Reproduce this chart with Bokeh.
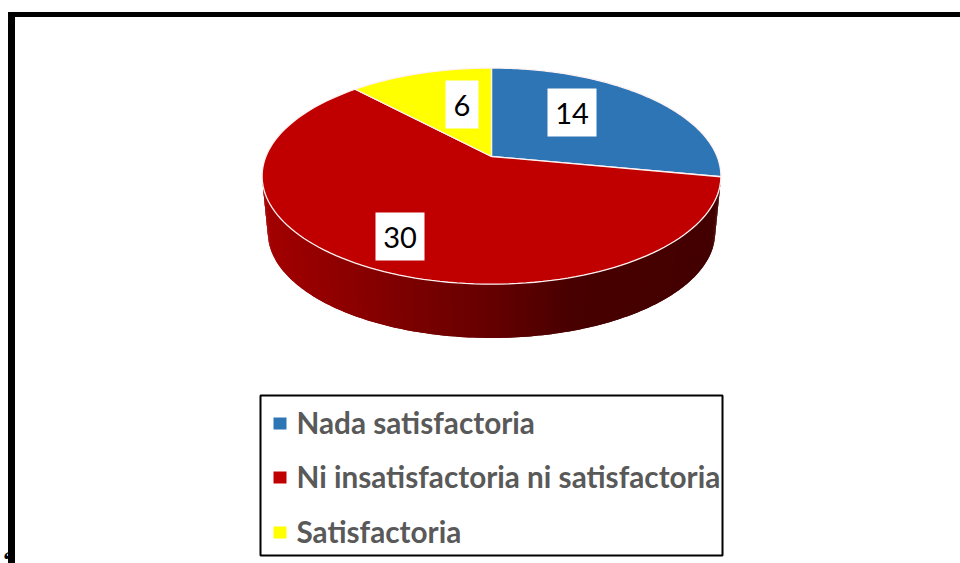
import math
from bokeh.core.properties import value
from bokeh.embed import file_html
from bokeh.models import ColumnDataSource, Range1d
from bokeh.plotting import figure
from bokeh.resources import INLINE

categories = ["Nada satisfactoria", "Ni insatisfactoria ni satisfactoria", "Satisfactoria"]
values = [14, 30, 6]
colors = ["#2E75B6", "#C00000", "#FFFF00"]

# Perspective projection of the pie disc (screen pixels)
APEX_X, APEX_Y = 491, 156
A, B, K = 104.5, 225.6, 0.1814
LOW_SCALE, LOW_DROP = 0.975, 57.0

def rim(theta, lower=False):
    u, v = math.sin(theta), math.cos(theta)
    d = 1 + K * v
    x, y = B * u / d, -A * v / d
    if lower:
        x, y = x * LOW_SCALE, y * LOW_SCALE + LOW_DROP
    return APEX_X + x, APEX_Y + y

def arc(t0, t1, n, lower=False):
    pts = [rim(t0 + (t1 - t0) * i / n, lower) for i in range(n + 1)]
    return [q[0] for q in pts], [q[1] for q in pts]

def shade(x):
    stops = [(262, (163, 0, 0)), (370, (133, 0, 0)), (490, (101, 0, 0)),
             (570, (72, 0, 0)), (720, (67, 0, 0))]
    for (x0, c0), (x1, c1) in zip(stops, stops[1:]):
        if x <= x1:
            f = max(0.0, (x - x0) / (x1 - x0))
            return "#%02x%02x%02x" % tuple(round(a + (b - a) * f) for a, b in zip(c0, c1))
    return "#430000"

p = figure(width=960, height=563, x_range=Range1d(0, 960), y_range=Range1d(563, 0),
           output_backend="svg", toolbar_location=None, min_border=0,
           background_fill_color="white", border_fill_color="white",
           outline_line_color=None)
p.axis.visible = False
p.grid.visible = False

# frame
p.quad(left=[8, 8], right=[14, 960], top=[12, 12], bottom=[563, 16], color="black")
p.text(x=[2], y=[558], text=["\u2018"], text_font=value("Liberation Serif"),
       text_font_size="24px", text_font_style="bold", text_color="black",
       text_baseline="middle")

# slice angles
total = sum(values)
angles = [0.0]
for val in values:
    angles.append(angles[-1] + val / total * 2 * math.pi)

# side wall of the disc: overlapping strips painted one over the next
start = max(angles[1], math.acos(-K))
end = 2 * math.pi - math.acos(-K)
N = 170
xs, ys, cs = [], [], []
for i in range(N):
    t0 = start + (end - start) * i / N
    t1 = start + (end - start) * min(i + 2, N) / N
    ax, ay = arc(t0, t1, 2)
    bx, by = arc(t1, t0, 2, True)
    xs.append(ax + bx)
    ys.append(ay + by)
    cs.append(shade(ax[1]))
p.patches("xs", "ys", source=ColumnDataSource(dict(xs=xs, ys=ys, c=cs)),
          fill_color="c", line_color=None)

# top face
sx, sy = [], []
for t0, t1 in zip(angles, angles[1:]):
    ax, ay = arc(t0, t1, 120)
    sx.append([APEX_X] + ax)
    sy.append([APEX_Y] + ay)
p.patches("xs", "ys", source=ColumnDataSource(dict(xs=sx, ys=sy, c=colors)),
          fill_color="c", line_color="#FFF2F2", line_width=1.3)

# data labels
box_left = [547, 375, 445]
box_right = [596, 424, 478]
box_top = [88, 212, 80]
box_bottom = [136, 260, 128]
p.quad(left=box_left, right=box_right, top=box_top, bottom=box_bottom,
       color="white", line_color=None)
p.text(x=[(a + b) / 2 for a, b in zip(box_left, box_right)],
       y=[(a + b) / 2 + 1 for a, b in zip(box_top, box_bottom)],
       text=[str(v) for v in values], text_font=value("Lato"), text_font_size="29px",
       text_color="black", text_align="center", text_baseline="middle")

# legend
p.quad(left=[260], right=[722], top=[395], bottom=[555], fill_color="white",
       line_color="black", line_width=2)
row_y = [423, 477, 532]
text_y = [422, 476, 531]
p.quad(left=[273] * 3, right=[286] * 3, top=[y - 6 for y in row_y], bottom=[y + 6 for y in row_y],
       color=colors, line_color=None)
p.text(x=[296] * 3, y=text_y, text=categories, text_font=value("Lato"),
       text_font_size="29.7px", text_font_style="bold", text_color="#595959",
       text_align="left", text_baseline="middle")

open("out.html", "w").write(file_html(p, INLINE))
